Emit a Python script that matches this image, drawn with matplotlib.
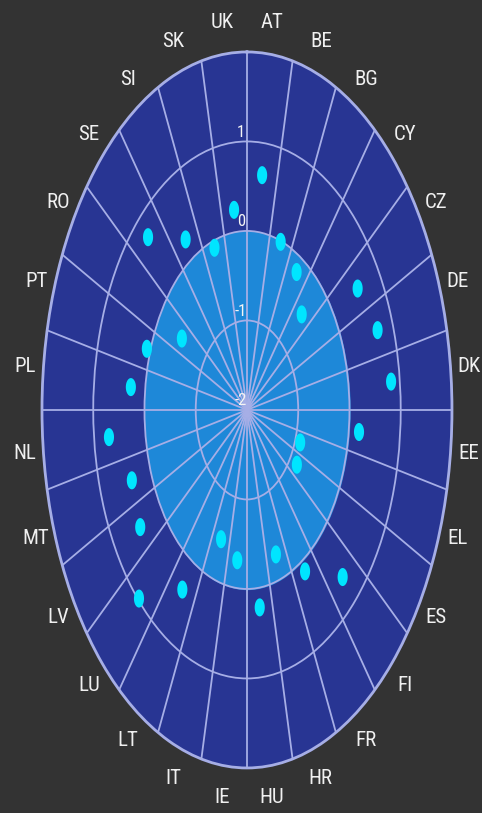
import numpy as np
import matplotlib.pyplot as plt
from matplotlib import font_manager
from matplotlib.path import Path
from matplotlib.transforms import offset_copy

# Datos: un valor por país (escala -2 a 2)
paises = ["AT", "BE", "BG", "CY", "CZ", "DE", "DK", "EE", "EL", "ES",
          "FI", "FR", "HR", "HU", "IE", "IT", "LT", "LU", "LV", "MT",
          "NL", "PL", "PT", "RO", "SE", "SI", "SK", "UK"]
valores = [0.64, -0.01, -0.18, -0.49, 0.55, 0.70, 0.83, 0.20, -0.90, -0.85,
           0.64, 0.13, -0.29, 0.22, -0.31, -0.47, 0.37, 0.98, 0.46, 0.38,
           0.71, 0.28, 0.07, -0.50, 0.73, 0.25, -0.08, 0.25]
etiquetas_r = [-2, -1, 0, 1]

# buscamos una fuente estrecha (el original está estirado en vertical)
instaladas = {f.name for f in font_manager.fontManager.ttflist}
fuente = ["DejaVu Sans"]
for nombre in ["Liberation Sans Narrow", "DejaVu Sans Condensed",
               "Roboto Condensed", "Open Sans Condensed"]:
    if nombre in instaladas:
        fuente = [nombre, "DejaVu Sans"]
        break

n = len(paises)
paso = 2 * np.pi / n
angulos = (np.arange(n) + 0.5) * paso
bordes = np.arange(n) * paso

fig = plt.figure(figsize=(4.82, 8.13), dpi=100, facecolor="#333333")
ax = fig.add_axes([0.0871, 0.0554, 0.8506, 0.8807], projection="polar")
ax.set_aspect("auto")
ax.set_theta_zero_location("N")
ax.set_theta_direction(-1)
ax.set_ylim(-2, 2)
ax.set_facecolor("#283593")

# disco interior (valores negativos)
t = np.linspace(0, 2 * np.pi, 300)
ax.fill_between(t, -2, 0, color="#1e88d8", zorder=1)

# rejilla
ax.set_xticks(bordes)
ax.set_xticklabels([])
ax.set_yticks([-1, 0, 1])
ax.set_yticklabels([])
ax.grid(True, color="#a6aee6", linewidth=1.3)
ax.spines["polar"].set_color("#a6aee6")
ax.spines["polar"].set_linewidth(2)
ax.tick_params(length=0)

# puntos con forma de elipse
s = np.linspace(0, 2 * np.pi, 60)
elipse = Path(np.column_stack([0.56 * np.cos(s), np.sin(s)]), closed=True)
ax.scatter(angulos, valores, marker=elipse, s=13 ** 2, color="#00e5ff",
           edgecolors="none", zorder=3)

# nombres de países
for a, p in zip(angulos, paises):
    ax.text(a, 2.36, p, ha="center", va="center", color="#f0f0f0",
            fontsize=15, family=fuente, stretch="condensed", clip_on=False)

# etiquetas del eje radial
desplaza = offset_copy(ax.transData, fig=fig, x=-6, y=9, units="dots")
for r in etiquetas_r:
    ax.text(0, r, str(r), ha="center", va="center", color="#f4f4f4",
            fontsize=12, family=fuente, stretch="condensed",
            transform=desplaza, zorder=5)

fig.savefig("out.png", dpi=100, facecolor=fig.get_facecolor())
